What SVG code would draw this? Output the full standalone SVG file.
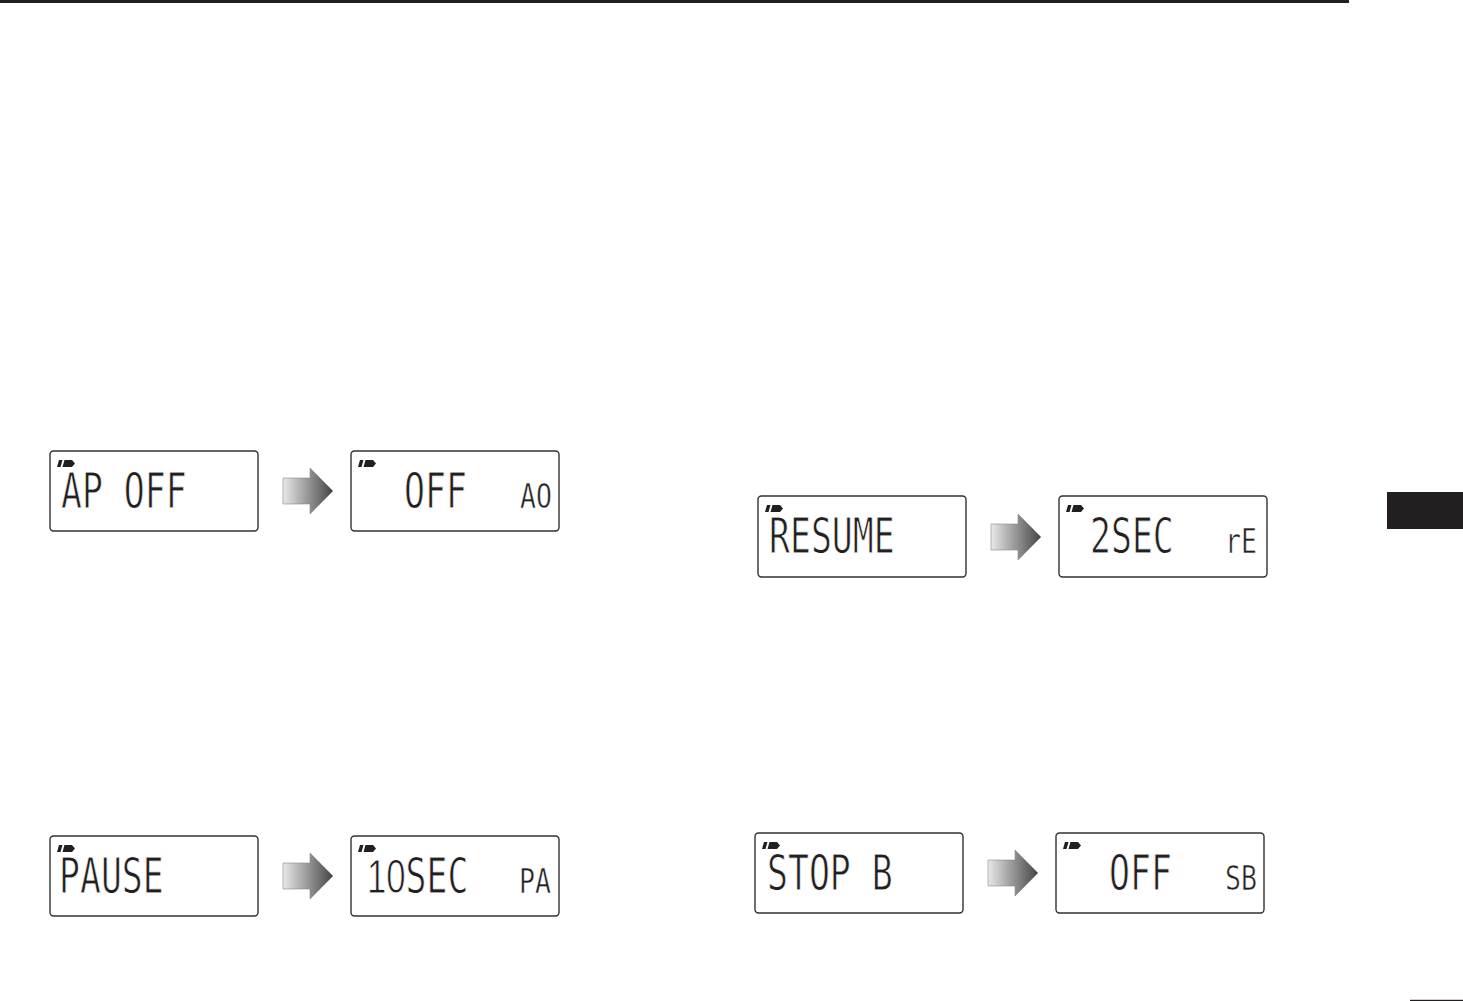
<svg xmlns="http://www.w3.org/2000/svg" width="1463" height="1001" viewBox="0 0 1463 1001">
<style>
.box{fill:#fff;stroke:#333132;stroke-width:1.4}
.lg,.sm{font-family:"DejaVu Sans Mono",monospace;fill:#231f20;stroke:#fff}
.lg{font-size:49px;stroke-width:.9px}
.sm{font-size:34px;stroke-width:.6px}
.d{font-family:"Liberation Sans",sans-serif}
.ar{fill:url(#g);stroke:#8a8a8a;stroke-width:.6}
.ink{fill:#231f20}
</style>
<defs>
<linearGradient id="g" x1="0" x2="1" y1="0" y2="0"><stop offset="0" stop-color="#e8e8e8"/><stop offset="1" stop-color="#444"/></linearGradient>
<g id="batt"><path class="ink" d="M0 7L2 0H5.500L3.500 7Z"/><path class="ink" d="M5.500 7L7.500 0H15L18 3.500L15 7Z"/></g>
<path id="arrow" class="ar" d="M0-13H27V-23L50 0L27 23V13H0Z"/>
</defs>
<g id="page">
<rect class="ink" x="0" y="0" width="1349" height="3"/>
<rect class="ink" x="1387" y="492" width="76" height="37"/>
<rect class="ink" x="1410" y="999.800" width="53" height="1.200"/>
</g>
<g id="connectors">
<use href="#arrow" x="283" y="491"/>
<use href="#arrow" x="991" y="537"/>
<use href="#arrow" x="283" y="876"/>
<use href="#arrow" x="988" y="873"/>
</g>
<g id="node-ap-off"><rect class="box" x="50" y="451" width="208" height="80" rx="3.500"/><use href="#batt" x="57" y="460"/><text class="lg" transform="translate(61 508) scale(.71 1)" xml:space="preserve">AP OFF</text></g>
<g id="node-off-ao"><rect class="box" x="351" y="451" width="208" height="80" rx="3.500"/><use href="#batt" x="358" y="460"/><text class="lg" transform="translate(404 508) scale(.71 1)">OFF</text><text class="sm" transform="translate(520 508) scale(.78 1)">AO</text></g>
<g id="node-resume"><rect class="box" x="758" y="496" width="208" height="81" rx="3.500"/><use href="#batt" x="765" y="505"/><text class="lg" transform="translate(769 553) scale(.71 1)">RESUME</text></g>
<g id="node-2sec"><rect class="box" x="1059" y="496" width="208" height="81" rx="3.500"/><use href="#batt" x="1066" y="505"/><text class="lg" transform="translate(1090 553) scale(.71 1)">2SEC</text><text class="sm" transform="translate(1225 553) scale(.78 1)">rE</text></g>
<g id="node-pause"><rect class="box" x="50" y="836" width="208" height="80" rx="3.500"/><use href="#batt" x="57" y="845"/><text class="lg" transform="translate(59 893) scale(.71 1)">PAUSE</text></g>
<g id="node-10sec"><rect class="box" x="351" y="836" width="208" height="80" rx="3.500"/><use href="#batt" x="358" y="845"/><text class="lg" transform="translate(367 893) scale(.71 1)"><tspan class="d">1</tspan><tspan class="d" x="27">0</tspan><tspan x="54.300">SEC</tspan></text><text class="sm" transform="translate(519 893) scale(.78 1)">PA</text></g>
<g id="node-stop-b"><rect class="box" x="755" y="833" width="208" height="80" rx="3.500"/><use href="#batt" x="762" y="842"/><text class="lg" transform="translate(767 890) scale(.71 1)" xml:space="preserve">STOP B</text></g>
<g id="node-off-sb"><rect class="box" x="1056" y="833" width="208" height="80" rx="3.500"/><use href="#batt" x="1063" y="842"/><text class="lg" transform="translate(1109 890) scale(.71 1)">OFF</text><text class="sm" transform="translate(1225 890) scale(.78 1)">SB</text></g>
</svg>
